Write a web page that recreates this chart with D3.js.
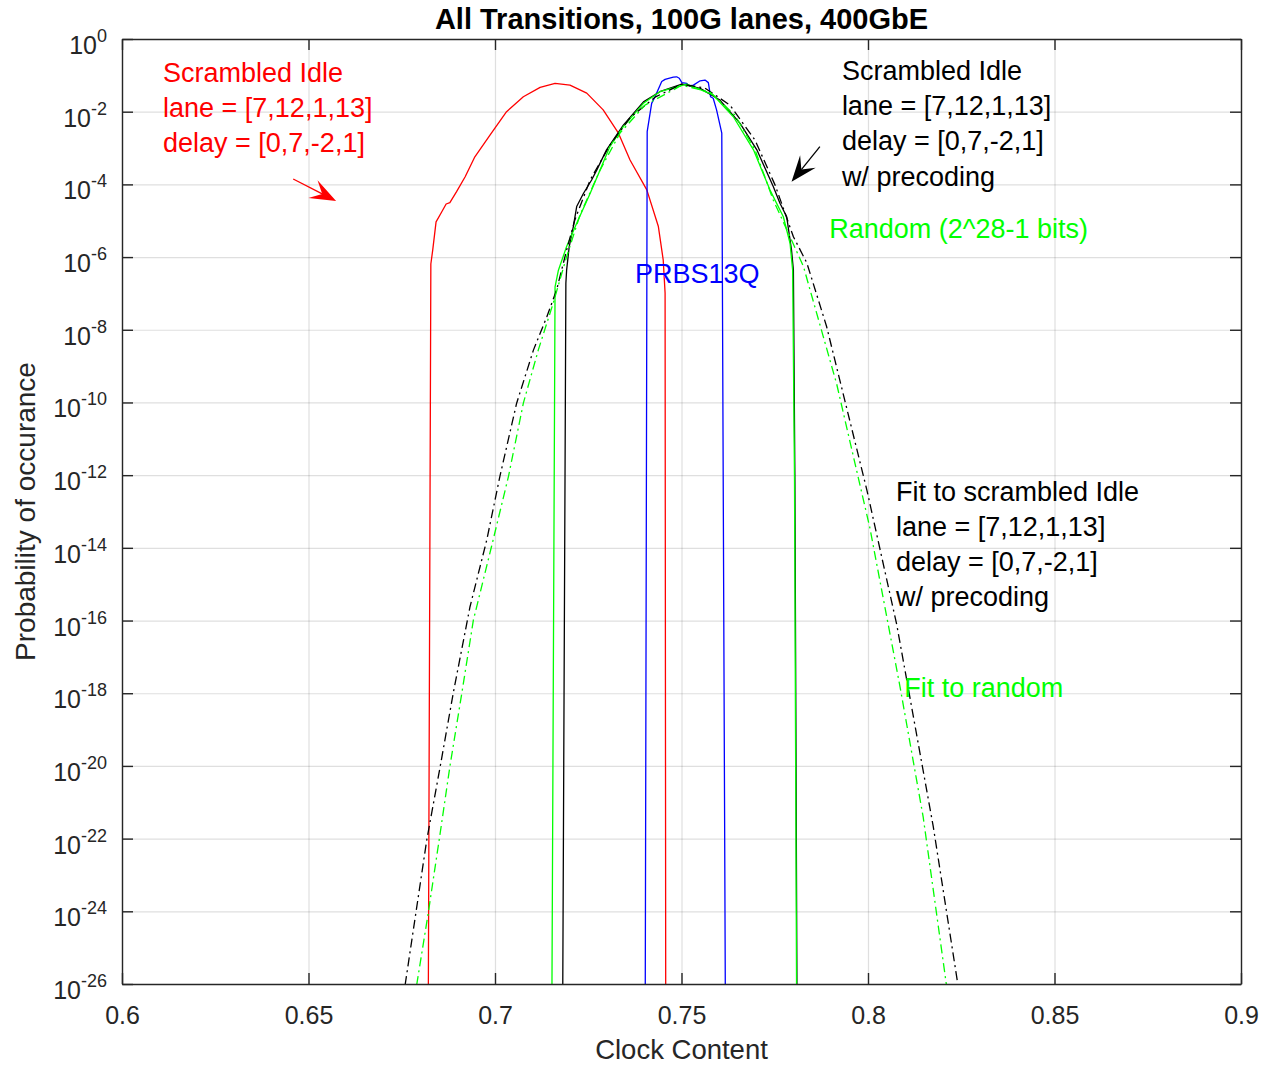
<!DOCTYPE html>
<html>
<head>
<meta charset="utf-8">
<script src="https://cdn.jsdelivr.net/npm/d3@7"></script>
<style>
  body { margin: 0; background: #fff; }
  text { font-family: "Liberation Sans", Arial, Helvetica, sans-serif; }
</style>
</head>
<body>
<svg id="chart" width="1264" height="1065"></svg>
<script>
// Curves: [clock content, log10(probability)]
// -30 marks the drop to zero (below the axis, clipped away)
var idleData = [[0.6820,-30],[0.6828,-6.19],[0.6833,-5.81],[0.6842,-5.03],[0.6857,-4.76],[0.6869,-4.54],
  [0.6879,-4.50],[0.6897,-4.20],[0.6920,-3.79],[0.6946,-3.24],[0.6987,-2.64],[0.7031,-2.00],[0.7076,-1.59],
  [0.7121,-1.33],[0.7161,-1.22],[0.7201,-1.27],[0.7246,-1.49],[0.7290,-1.95],[0.7331,-2.59],[0.7362,-3.33],
  [0.7407,-4.15],[0.7438,-5.16],[0.7451,-6.08],[0.7456,-6.99],[0.7458,-30]];

var prbsData = [[0.7402,-30],[0.7408,-2.55],[0.7420,-1.77],[0.7429,-1.59],[0.7447,-1.17],[0.7456,-1.11],
  [0.7478,-1.05],[0.7487,-1.04],[0.7494,-1.08],[0.7501,-1.20],[0.7514,-1.22],[0.7521,-1.29],[0.7532,-1.27],
  [0.7550,-1.15],[0.7563,-1.13],[0.7572,-1.20],[0.7578,-1.59],[0.7585,-1.63],[0.7594,-1.95],[0.7608,-2.59],
  [0.7619,-30]];

var idlePreData = [[0.7180,-30],[0.7190,-6.72],[0.7192,-6.36],[0.7199,-5.71],[0.7210,-5.16],[0.7219,-4.61],
  [0.7237,-4.25],[0.7259,-3.88],[0.7273,-3.60],[0.7299,-3.05],[0.7344,-2.37],[0.7398,-1.73],[0.7442,-1.45],
  [0.7501,-1.24],[0.7550,-1.36],[0.7603,-1.68],[0.7657,-2.32],[0.7702,-3.05],[0.7746,-4.06],[0.7764,-4.52],
  [0.7782,-4.89],[0.7795,-5.81],[0.7800,-6.36],[0.7804,-12.13],[0.7811,-30]];

var randomData = [[0.7151,-30],[0.7161,-6.82],[0.7170,-6.36],[0.7192,-5.71],[0.7219,-5.07],[0.7255,-4.25],
  [0.7282,-3.60],[0.7308,-2.96],[0.7344,-2.41],[0.7398,-1.77],[0.7442,-1.45],[0.7514,-1.24],[0.7585,-1.54],
  [0.7639,-2.14],[0.7693,-3.05],[0.7737,-4.15],[0.7773,-4.89],[0.7791,-5.62],[0.7798,-6.36],[0.7803,-12.13],
  [0.7810,-30]];

var fitIdleData = [[0.6759,-26.03],[0.6817,-22.04],[0.6853,-20.02],[0.6888,-18.00],[0.6933,-15.62],
  [0.6978,-13.78],[0.7013,-12.04],[0.7058,-10.02],[0.7103,-8.56],[0.7139,-7.64],[0.7165,-6.91],[0.7192,-5.81],
  [0.7214,-4.98],[0.7255,-3.88],[0.7308,-2.92],[0.7362,-2.17],[0.7429,-1.60],[0.7501,-1.24],[0.7563,-1.35],
  [0.7630,-1.82],[0.7697,-2.78],[0.7751,-4.02],[0.7800,-5.44],[0.7836,-6.16],[0.7889,-7.91],[0.7997,-12.41],
  [0.8077,-16.11],[0.8175,-21.67],[0.8242,-26.08]];

var fitRandomData = [[0.6790,-26.03],[0.6821,-24.05],[0.6853,-21.85],[0.6879,-20.02],[0.6911,-18.00],
  [0.6942,-15.99],[0.6991,-13.95],[0.7036,-12.04],[0.7076,-10.02],[0.7116,-8.56],[0.7156,-7.27],[0.7192,-5.99],
  [0.7228,-4.84],[0.7282,-3.60],[0.7335,-2.59],[0.7402,-1.82],[0.7501,-1.27],[0.7576,-1.46],[0.7643,-2.09],
  [0.7697,-3.05],[0.7746,-4.43],[0.7791,-5.44],[0.7827,-6.26],[0.7916,-9.49],[0.8005,-13.45],[0.8086,-17.83],
  [0.8148,-21.41],[0.8211,-26.08]];

var xTicks = [0.6, 0.65, 0.7, 0.75, 0.8, 0.85, 0.9];
var yTickExps = [0, -2, -4, -6, -8, -10, -12, -14, -16, -18, -20, -22, -24, -26];

var titleText = "All Transitions, 100G lanes, 400GbE";
var xLabelText = "Clock Content";
var yLabelText = "Probability of occurance";

var svg = d3.select("svg"),
    width = +svg.attr("width"),
    height = +svg.attr("height");

var margin = {left: 122, right: 23, top: 39, bottom: 81};
var x0 = margin.left, x1 = width - margin.right,
    y0 = margin.top, y1 = height - margin.bottom;

var x = d3.scaleLinear().domain([0.6, 0.9]).range([x0, x1]);
var y = d3.scaleLog().domain([1e-26, 1]).range([y1, y0]);
var yTicks = yTickExps.map(function(e) { return Math.pow(10, e); });

var axisColor = "#262626";

// grid lines
svg.append("g")
    .attr("transform", "translate(0," + y1 + ")")
    .call(d3.axisBottom(x).tickValues(xTicks).tickSize(-(y1 - y0)).tickFormat(""))
    .call(function(g) { g.select(".domain").remove(); })
    .selectAll("line").attr("stroke", axisColor).attr("stroke-opacity", 0.15).attr("stroke-width", 1.2);

svg.append("g")
    .attr("transform", "translate(" + x0 + ",0)")
    .call(d3.axisLeft(y).tickValues(yTicks).tickSize(-(x1 - x0)).tickFormat(""))
    .call(function(g) { g.select(".domain").remove(); })
    .selectAll("line").attr("stroke", axisColor).attr("stroke-opacity", 0.15).attr("stroke-width", 1.2);

// clip for the curves
svg.append("clipPath").attr("id", "plotclip")
  .append("rect").attr("x", x0).attr("y", y0).attr("width", x1 - x0).attr("height", y1 - y0);

var line = d3.line()
    .x(function(d) { return x(d[0]); })
    .y(function(d) { return y(Math.pow(10, d[1])); });

var curves = svg.append("g").attr("clip-path", "url(#plotclip)");

function drawCurve(data, color, dash) {
  curves.append("path")
      .datum(data)
      .attr("fill", "none")
      .attr("stroke", color)
      .attr("stroke-width", 1.3)
      .attr("stroke-linejoin", "round")
      .attr("stroke-dasharray", dash || null)
      .attr("d", line);
}

drawCurve(idleData, "#ff0000");
drawCurve(prbsData, "#0000ff");
drawCurve(idlePreData, "#000000");
drawCurve(randomData, "#00ff00");
drawCurve(fitIdleData, "#000000", "9,4,2,4");
drawCurve(fitRandomData, "#00ff00", "9,4,2,4");

// axes box + inward ticks on all sides
var axBottom = svg.append("g")
    .attr("transform", "translate(0," + y1 + ")")
    .call(d3.axisBottom(x).tickValues(xTicks).tickSize(-11).tickSizeOuter(0).tickFormat(d3.format("")));
var axTop = svg.append("g")
    .attr("transform", "translate(0," + y0 + ")")
    .call(d3.axisTop(x).tickValues(xTicks).tickSize(-11).tickSizeOuter(0).tickFormat(""));
var axLeft = svg.append("g")
    .attr("transform", "translate(" + x0 + ",0)")
    .call(d3.axisLeft(y).tickValues(yTicks).tickSize(-11).tickSizeOuter(0).tickFormat(""));
var axRight = svg.append("g")
    .attr("transform", "translate(" + x1 + ",0)")
    .call(d3.axisRight(y).tickValues(yTicks).tickSize(-11).tickSizeOuter(0).tickFormat(""));

[axBottom, axTop, axLeft, axRight].forEach(function(g) {
  g.select(".domain").attr("stroke", axisColor).attr("stroke-width", 1.4);
  g.selectAll(".tick line").attr("stroke", axisColor).attr("stroke-width", 1.4);
});

axBottom.selectAll(".tick text")
    .attr("y", 40).attr("dy", null)
    .attr("fill", axisColor)
    .style("font-family", "'Liberation Sans', Arial, sans-serif")
    .style("font-size", "25px");

// y tick labels as 10 with superscript
var ylab = svg.append("g").attr("fill", axisColor);
yTickExps.forEach(function(e) {
  var t = ylab.append("text")
      .attr("x", x0 - 15)
      .attr("y", y(Math.pow(10, e)) + 15)
      .attr("text-anchor", "end")
      .style("font-size", "25px");
  t.append("tspan").text("10");
  t.append("tspan").attr("dy", -12).style("font-size", "18px").text(e);
});

// title and axis labels
svg.append("text")
    .attr("x", (x0 + x1) / 2).attr("y", 29)
    .attr("text-anchor", "middle")
    .attr("font-weight", "bold")
    .style("font-size", "29px")
    .attr("fill", "#000")
    .text(titleText);

svg.append("text")
    .attr("x", (x0 + x1) / 2).attr("y", 1059)
    .attr("text-anchor", "middle")
    .style("font-size", "27.5px")
    .attr("fill", axisColor)
    .text(xLabelText);

svg.append("text")
    .attr("transform", "translate(35," + ((y0 + y1) / 2) + ") rotate(-90)")
    .attr("text-anchor", "middle")
    .style("font-size", "28px")
    .attr("fill", axisColor)
    .text(yLabelText);

// annotations: [x, log10 y] of first baseline
var notes = [
  {pos: [0.6110, -1.183], color: "#ff0000", lines: ["Scrambled Idle", "lane = [7,12,1,13]", "delay = [0,7,-2,1]"]},
  {pos: [0.7930, -1.128], color: "#000000", lines: ["Scrambled Idle", "lane = [7,12,1,13]", "delay = [0,7,-2,1]", "w/ precoding"]},
  {pos: [0.7896, -5.483], color: "#00ff00", lines: ["Random (2^28-1 bits)"]},
  {pos: [0.7375, -6.705], color: "#0000ff", lines: ["PRBS13Q"]},
  {pos: [0.8075, -12.703], color: "#000000", lines: ["Fit to scrambled Idle", "lane = [7,12,1,13]", "delay = [0,7,-2,1]", "w/ precoding"]},
  {pos: [0.8097, -18.095], color: "#00ff00", lines: ["Fit to random"]}
];

notes.forEach(function(n) {
  var t = svg.append("text")
      .attr("fill", n.color)
      .style("font-size", "27px");
  n.lines.forEach(function(s, i) {
    t.append("tspan")
        .attr("x", x(n.pos[0]))
        .attr("y", y(Math.pow(10, n.pos[1])) + i * 35.2)
        .text(s);
  });
});

// arrows: start and tip as [x, log10 y]
var arrows = [
  {from: [0.6459, -3.852], to: [0.6574, -4.457], color: "#ff0000"},
  {from: [0.7871, -2.963], to: [0.7795, -3.926], color: "#000000"}
];

arrows.forEach(function(a) {
  var sx = x(a.from[0]), sy = y(Math.pow(10, a.from[1])),
      tx = x(a.to[0]), ty = y(Math.pow(10, a.to[1]));
  var dx = tx - sx, dy = ty - sy, len = Math.sqrt(dx * dx + dy * dy);
  var ux = dx / len, uy = dy / len, nx = -uy, ny = ux;
  var L = 26, W = 10;
  svg.append("line")
      .attr("x1", sx).attr("y1", sy)
      .attr("x2", tx - ux * L * 0.6).attr("y2", ty - uy * L * 0.6)
      .attr("stroke", a.color).attr("stroke-width", 1.3);
  var pts = [
    [tx, ty],
    [tx - ux * L + nx * W, ty - uy * L + ny * W],
    [tx - ux * L * 0.6, ty - uy * L * 0.6],
    [tx - ux * L - nx * W, ty - uy * L - ny * W]
  ];
  svg.append("path")
      .attr("d", "M" + pts.map(function(p) { return p.join(","); }).join("L") + "Z")
      .attr("fill", a.color);
});
</script>
</body>
</html>
